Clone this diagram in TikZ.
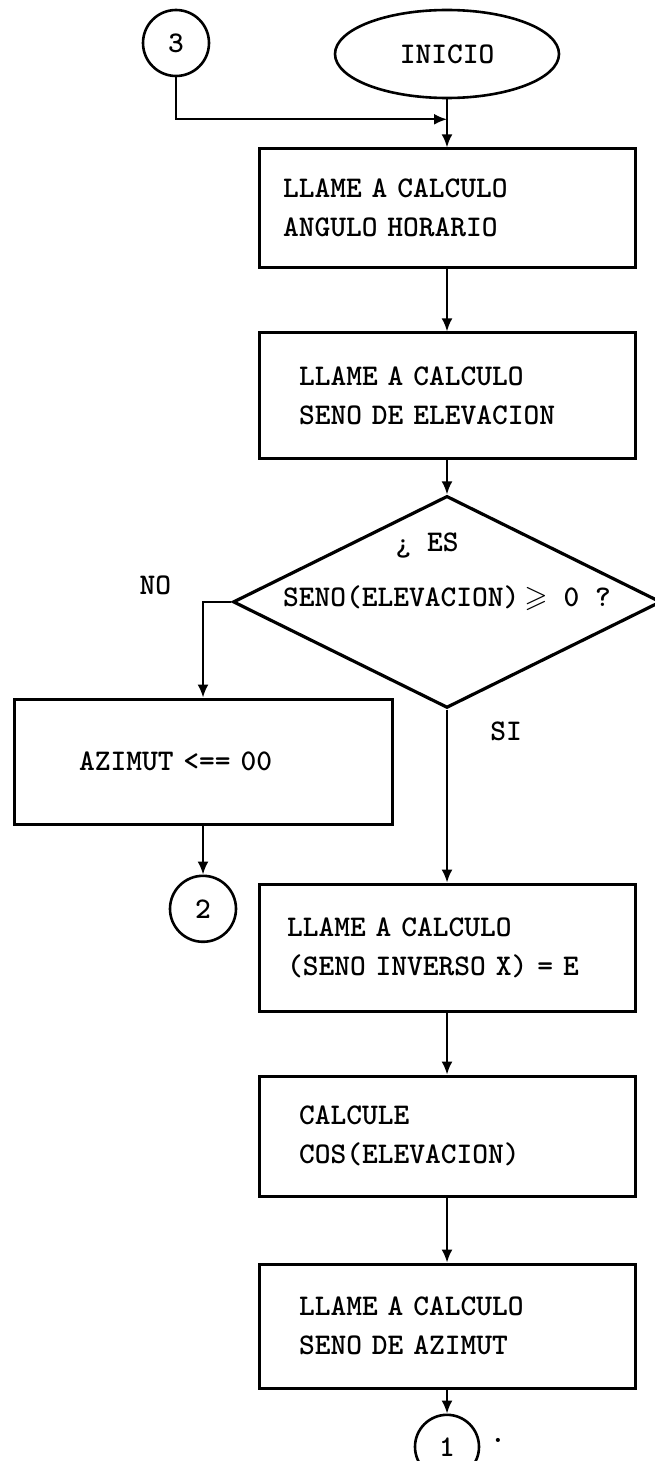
\documentclass[tikz,border=0pt]{standalone}
\usepackage{amssymb}
\usetikzlibrary{positioning,arrows.meta,shapes.geometric}

\begin{document}
\begin{tikzpicture}[
    x=1pt, y=1pt,
    every node/.style={font=\fontsize{30}{39}\selectfont\ttfamily\bfseries},
    box/.style={draw, line width=3pt, minimum width=376pt,
                text width=296pt, inner xsep=40pt, align=left},
    conn/.style={draw, circle, line width=2.6pt, minimum size=66pt, inner sep=0pt},
    start/.style={draw, ellipse, line width=2.6pt, minimum width=224pt,
                  minimum height=88pt, inner sep=2pt},
    test/.style={draw, diamond, line width=3.2pt, minimum width=428pt,
                 minimum height=212pt, inner sep=0pt},
    arr/.style={-{Latex[length=13pt,width=11pt]}, line width=2pt}
  ]
  \useasboundingbox (0,0) rectangle (655,-1461);
  \node[start]                   (ini) at (447,-54) {INICIO};
  \node[conn]                    (c3)  at (176,-43) {3};
  \coordinate[below=20pt of ini] (jn);
  \node[box, text width=328pt, inner xsep=24pt, minimum height=119pt,
        below=48pt of ini]       (b1) {LLAME A CALCULO\\ANGULO HORARIO};
  \node[box, minimum height=126pt, below=62pt of b1]
                                 (b2) {LLAME A CALCULO\\SENO DE ELEVACION};
  \node[test, below=34pt of b2]  (q) {};
  \node[font=\fontsize{30}{55}\selectfont\ttfamily\bfseries, align=center]
        (qt) at ([yshift=30pt]q.center)
        {¿ ES\hspace*{40pt}\\SENO(ELEVACION)\,$\geqslant$ 0 ?};
  \node (no) at ([xshift=-76pt,yshift=17pt]q.west) {NO};
  \node (si) at ([xshift=59pt,yshift=-22pt]q.south) {SI};
  % rama NO
  \node[box, minimum width=378pt, text width=248pt, inner xsep=65pt,
        minimum height=125pt]    (b3) at (203,-761.5) {AZIMUT <== 00};
  \node[conn, below=49pt of b3]  (c2) {2};
  % rama SI
  \node[box, text width=320pt, inner xsep=28pt, minimum height=127pt,
        below=173pt of q]        (b4) {LLAME A CALCULO\\(SENO INVERSO X) = E};
  \node[box, minimum height=120pt, below=62pt of b4]
                                 (b5) {CALCULE\\COS(ELEVACION)};
  \node[box, minimum height=124pt, below=65pt of b5]
                                 (b6) {LLAME A CALCULO\\SENO DE AZIMUT};
  \node[conn, minimum size=64pt, below=24pt of b6] (c1) {1};
  \node[anchor=base] (stop) at (498,-1442) {.};

  \draw[arr] (c3) |- (jn);
  \draw[arr] (ini) -- (b1);
  \draw[arr] (b1) -- (b2);
  \draw[arr] (b2) -- (q);
  \draw[arr] (q.west) -| (b3);
  \draw[arr] (b3) -- (c2);
  \draw[arr] (q) -- (b4);
  \draw[arr] (b4) -- (b5);
  \draw[arr] (b5) -- (b6);
  \draw[arr] (b6) -- (c1);
\end{tikzpicture}
\end{document}
